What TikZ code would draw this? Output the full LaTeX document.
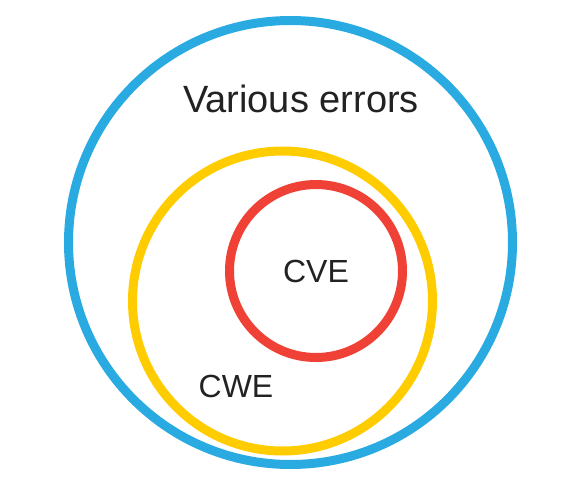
\documentclass[tikz,border=0pt]{standalone}
\usepackage{fontspec}
\setmainfont{Liberation Sans}
\definecolor{cblue}{HTML}{29ABE2}
\definecolor{cyellow}{HTML}{FFCC00}
\definecolor{cred}{HTML}{EF4136}
\definecolor{ctext}{HTML}{222222}
\begin{document}
\begin{tikzpicture}[x=1pt,y=-1pt,
  ring/.style={line width=9pt},
  lbl/.style={text=ctext,inner sep=0pt,anchor=base}]
\useasboundingbox (0,0) rectangle (579,485);
\draw[ring,cblue] (290.5,242.5) circle[radius=222];
\draw[ring,cyellow] (282.5,301) circle[radius=150];
\draw[ring,cred] (316,271) circle[radius=86.5];
\node[lbl,font=\fontsize{38}{42}\selectfont] (various) at (301,112.5) {Various errors};
\node[lbl,font=\fontsize{32}{36}\selectfont] (cve) at (316,282.5) {CVE};
\node[lbl,font=\fontsize{32}{36}\selectfont] (cwe) at (236,397) {CWE};
\end{tikzpicture}
\end{document}
